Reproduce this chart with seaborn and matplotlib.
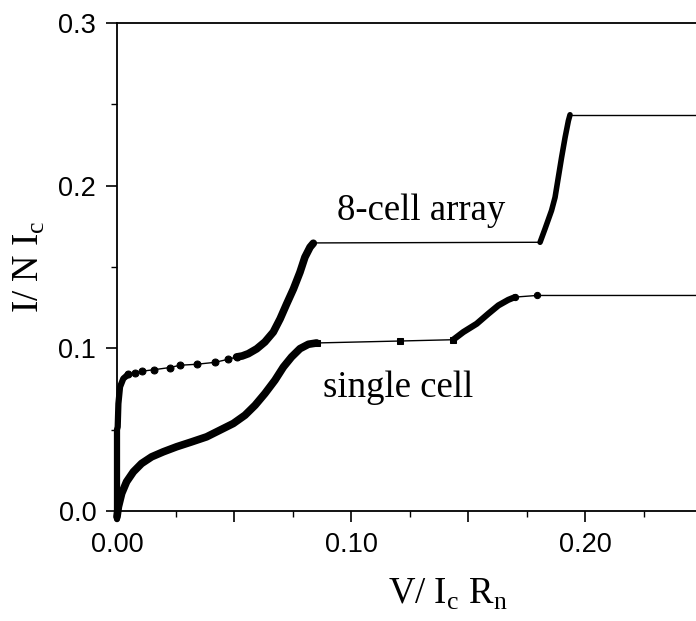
"""
I-V curves: single cell vs 8-cell array
"""

import matplotlib
matplotlib.use("Agg")
import matplotlib.pyplot as plt
import seaborn as sns

# --- 8-cell array (V / Ic Rn, I / N Ic), branch by branch ---
array_v_zero = [0.0, 0.0, 0.0003, 0.0006, 0.0013, 0.0027, 0.0048]
array_i_zero = [-0.005, 0.050, 0.0517, 0.0660, 0.0763, 0.0814, 0.0840]

array_v_dots = [0.0048, 0.0077, 0.0105, 0.0160, 0.0226, 0.0269, 0.0340,
                0.0419, 0.0476, 0.0511]
array_i_dots = [0.0840, 0.0849, 0.0859, 0.0869, 0.0882, 0.0896, 0.0902,
                0.0914, 0.0933, 0.0947]

array_v_step1 = [0.0511, 0.0535, 0.0561, 0.0597, 0.0632, 0.0668, 0.0697,
                 0.0725, 0.0754, 0.0782, 0.0803, 0.0825, 0.0839]
array_i_step1 = [0.0947, 0.0953, 0.0967, 0.0997, 0.1039, 0.1100, 0.1181,
                 0.1273, 0.1365, 0.1468, 0.1560, 0.1622, 0.1646]

array_v_flat1 = [0.0839, 0.1808]
array_i_flat1 = [0.1648, 0.1652]

array_v_step2 = [0.1808, 0.1829, 0.1857, 0.1872, 0.1886, 0.1900, 0.1915,
                 0.1929, 0.1936]
array_i_step2 = [0.1652, 0.1734, 0.1847, 0.1928, 0.2051, 0.2174, 0.2297,
                 0.2399, 0.2436]

array_v_flat2 = [0.1936, 0.25]
array_i_flat2 = [0.2436, 0.2436]

# --- single cell ---
single_v_step1 = [0.0, 0.0006, 0.0020, 0.0041, 0.0070, 0.0105, 0.0148,
                  0.0198, 0.0255, 0.0319, 0.0383, 0.0440, 0.0497, 0.0547,
                  0.0590, 0.0632, 0.0675, 0.0711, 0.0746, 0.0782, 0.0818,
                  0.0853]
single_i_step1 = [-0.0035, 0.0026, 0.0108, 0.0180, 0.0241, 0.0292, 0.0333,
                  0.0364, 0.0395, 0.0425, 0.0456, 0.0497, 0.0538, 0.0589,
                  0.0650, 0.0722, 0.0804, 0.0885, 0.0947, 0.0998, 0.1025,
                  0.1033]

single_v_flat1 = [0.0853, 0.1209, 0.1437]
single_i_flat1 = [0.1033, 0.1045, 0.1053]

single_v_step2 = [0.1437, 0.1480, 0.1537, 0.1587, 0.1630, 0.1672, 0.1701]
single_i_step2 = [0.1053, 0.1100, 0.1151, 0.1213, 0.1264, 0.1298, 0.1315]

single_v_flat2 = [0.1701, 0.1794, 0.25]
single_i_flat2 = [0.1315, 0.1325, 0.1325]

XTICKS = [0.0, 0.05, 0.10, 0.15, 0.20, 0.25]
XTICK_LABELS = ['0.00', '', '0.10', '', '0.20', '']
YTICKS = [0.0, 0.1, 0.2, 0.3]
YTICK_LABELS = ['0.0', '0.1', '0.2', '0.3']

SERIF = ['Liberation Serif', 'DejaVu Serif']
SANS = ['Liberation Sans', 'DejaVu Sans']


def draw(ax, v, i, lw, marker=None, ms=0):
    """Trace une branche de la courbe"""
    sns.lineplot(x=v, y=i, ax=ax, color='black', lw=lw, sort=False,
                 estimator=None, marker=marker, markersize=ms,
                 markeredgecolor='black', markerfacecolor='black',
                 solid_capstyle='round', solid_joinstyle='round',
                 clip_on=False)


sns.set_theme(style="ticks")
plt.rcParams['font.family'] = SANS
plt.rcParams['mathtext.fontset'] = 'custom'
plt.rcParams['mathtext.rm'] = 'Liberation Serif'

fig = plt.figure(figsize=(6.96, 6.21), dpi=100)
ax = fig.add_axes([117 / 696, 110 / 621, 585 / 696, 488 / 621])

# 8-cell array
draw(ax, array_v_zero, array_i_zero, 4.5)
draw(ax, array_v_dots, array_i_dots, 1.0, marker='o', ms=5)
draw(ax, array_v_step1, array_i_step1, 5.5)
draw(ax, array_v_flat1, array_i_flat1, 1.0)
draw(ax, array_v_step2, array_i_step2, 4.0)
draw(ax, array_v_flat2, array_i_flat2, 1.0)

# single cell
draw(ax, single_v_step1, single_i_step1, 5.5)
draw(ax, single_v_flat1, single_i_flat1, 1.0, marker='s', ms=4.5)
draw(ax, single_v_step2, single_i_step2, 4.5)
draw(ax, single_v_flat2, single_i_flat2, 1.0, marker='o', ms=4.5)

ax.set_xlim(0, 0.25)
ax.set_ylim(0, 0.3)
ax.set_xticks(XTICKS)
ax.set_xticklabels(XTICK_LABELS)
ax.set_xticks([0.025, 0.075, 0.125, 0.175, 0.225], minor=True)
ax.set_yticks(YTICKS)
ax.set_yticklabels(YTICK_LABELS)
ax.set_yticks([0.05, 0.15, 0.25], minor=True)

for side in ['left', 'bottom', 'top']:
    ax.spines[side].set_color('black')
    ax.spines[side].set_linewidth(1.3)
ax.spines['right'].set_visible(False)

ax.tick_params(which='major', direction='out', length=8, width=1.2,
               colors='black', labelsize=19.5, pad=7)
ax.tick_params(which='minor', direction='out', length=4.5, width=1.0,
               colors='black')
ax.tick_params(axis='x', top=False, which='both')

ax.set_xlabel(r'V/ I$_\mathregular{c}$ R$_\mathregular{n}$',
              fontsize=26.5, family=SERIF, color='black')
ax.xaxis.set_label_coords(0.566, -0.135)
ax.set_ylabel(r'I/ N I$_\mathregular{c}$', fontsize=26.5, family=SERIF,
              color='black')
ax.yaxis.set_label_coords(-0.12, 0.5)

ax.text(0.094, 0.179, '8-cell array', fontsize=26.5, family=SERIF,
        ha='left', va='baseline', color='black')
ax.text(0.088, 0.070, 'single cell', fontsize=26.5, family=SERIF,
        ha='left', va='baseline', color='black')

plt.savefig('out.png', dpi=100)
plt.close()
